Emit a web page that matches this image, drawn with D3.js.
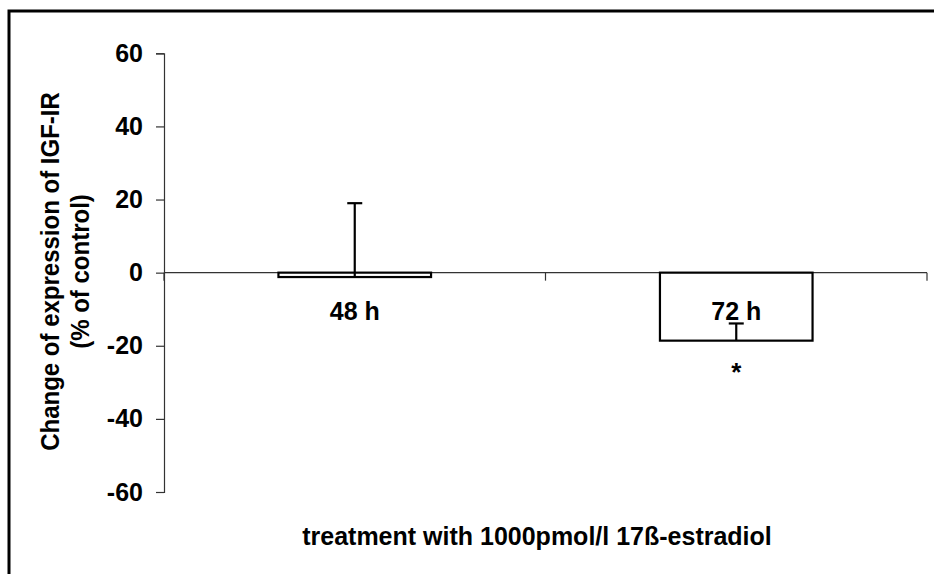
<!DOCTYPE html>
<html>
<head>
<meta charset="utf-8">
<script src="https://cdn.jsdelivr.net/npm/d3@7"></script>
<style>
  html, body { margin: 0; padding: 0; background: #fff; }
  svg { display: block; }
  text { font-family: "Liberation Sans", Arial, sans-serif; font-weight: bold; fill: #000; }
</style>
</head>
<body>
<svg id="chart" width="934" height="574"></svg>
<script>
// ---- data ----
const categories = ["48 h", "72 h"];
const values = [-1.2, -18.6];
const errorEnds = [19.0, -13.9];
const significance = ["", "*"];
const yTicks = [60, 40, 20, 0, -20, -40, -60];
const yTitleLines = ["Change of expression of IGF-IR", "(% of control)"];
const xTitle = "treatment with 1000pmol/l 17ß-estradiol";

// ---- layout ----
(function () {
const svg = d3.select("#chart");
const plotLeft = 164, plotRight = 927, plotTop = 53.3, plotBottom = 492;

// outer frame (right and bottom edges fall outside the picture)
svg.append("rect")
  .attr("x", 9).attr("y", 11)
  .attr("width", 1000).attr("height", 700)
  .attr("fill", "none").attr("stroke", "#000").attr("stroke-width", 3);

const y = d3.scaleLinear().domain([-60, 60]).range([plotBottom, plotTop]);
const x = d3.scaleBand().domain(categories).range([plotLeft, plotRight]).paddingInner(0).paddingOuter(0);
const barW = x.bandwidth() * 0.4;

// y axis
const yAxis = d3.axisLeft(y).tickValues(yTicks).tickSize(8).tickPadding(13).tickFormat(d => String(d));
const gy = svg.append("g").attr("transform", `translate(${plotLeft},0)`).call(yAxis);
gy.attr("font-family", null).attr("font-size", null);
gy.select(".domain").attr("stroke", "#333").attr("stroke-width", 1.2);
gy.selectAll(".tick line").attr("stroke", "#333").attr("stroke-width", 1.2);
gy.selectAll(".tick text").style("font-size", "25px");

// x axis at zero
const xAxisG = svg.append("g").attr("transform", `translate(0,${y(0)})`);
xAxisG.append("line")
  .attr("x1", plotLeft).attr("x2", plotRight).attr("y1", 0).attr("y2", 0)
  .attr("stroke", "#333").attr("stroke-width", 1.2);
const boundaries = [plotLeft].concat(categories.map(c => x(c) + x.bandwidth()));
xAxisG.selectAll("line.xt").data(boundaries).join("line")
  .attr("class", "xt")
  .attr("x1", d => d).attr("x2", d => d).attr("y1", 0).attr("y2", 8)
  .attr("stroke", "#333").attr("stroke-width", 1.2);

// bars
const barG = svg.append("g");
barG.selectAll("rect.bar").data(categories).join("rect")
  .attr("class", "bar")
  .attr("x", (d) => x(d) + (x.bandwidth() - barW) / 2)
  .attr("y", (d, i) => Math.min(y(0), y(values[i])))
  .attr("width", barW)
  .attr("height", (d, i) => Math.abs(y(values[i]) - y(0)))
  .attr("fill", "#fff").attr("stroke", "#000").attr("stroke-width", 2.2);

// error bars
const capW = 15;
categories.forEach((c, i) => {
  const cx = x(c) + x.bandwidth() / 2;
  barG.append("line")
    .attr("x1", cx).attr("x2", cx)
    .attr("y1", y(values[i])).attr("y2", y(errorEnds[i]))
    .attr("stroke", "#000").attr("stroke-width", 2.2);
  barG.append("line")
    .attr("x1", cx - capW / 2).attr("x2", cx + capW / 2)
    .attr("y1", y(errorEnds[i])).attr("y2", y(errorEnds[i]))
    .attr("stroke", "#000").attr("stroke-width", 2.2);
});

// category labels
svg.selectAll("text.cat").data(categories).join("text")
  .attr("class", "cat")
  .attr("x", d => x(d) + x.bandwidth() / 2)
  .attr("y", 320)
  .attr("text-anchor", "middle")
  .style("font-size", "25px")
  .text(d => d);

// significance marks
svg.selectAll("text.sig").data(categories).join("text")
  .attr("class", "sig")
  .attr("x", d => x(d) + x.bandwidth() / 2)
  .attr("y", 381)
  .attr("text-anchor", "middle")
  .style("font-size", "26px")
  .text((d, i) => significance[i]);

// y title
const yt = svg.append("text")
  .attr("transform", `translate(59,271.5) scale(1.1,1) rotate(-90)`)
  .attr("text-anchor", "middle")
  .style("font-size", "24px");
yt.selectAll("tspan").data(yTitleLines).join("tspan")
  .attr("x", 0).attr("dy", (d, i) => i === 0 ? 0 : 27)
  .text(d => d);

// x title
svg.append("text")
  .attr("x", 537).attr("y", 545)
  .attr("text-anchor", "middle")
  .style("font-size", "25px")
  .text(xTitle);
})();
</script>
</body>
</html>
